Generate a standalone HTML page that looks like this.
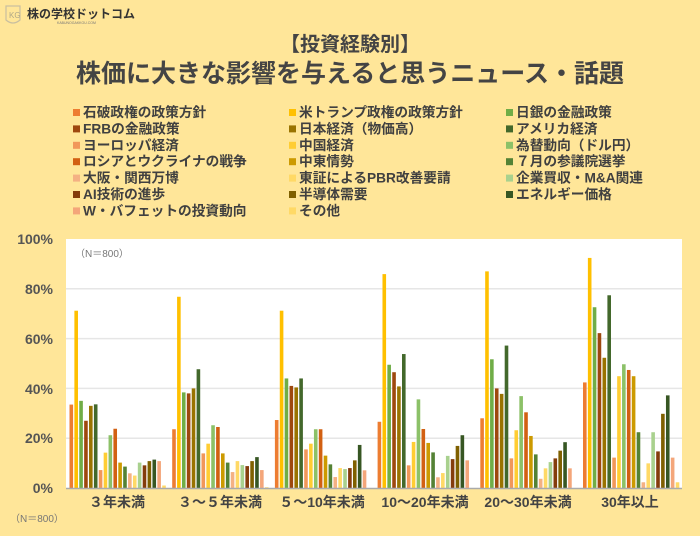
<!DOCTYPE html>
<html><head><meta charset="utf-8"><style>
body{margin:0;width:700px;height:531px;background:#FFE699;overflow:hidden;font-family:"Liberation Sans","Noto Sans CJK JP",sans-serif;}
</style></head><body>
<svg id="s" width="700" height="531" xmlns="http://www.w3.org/2000/svg" font-family="Liberation Sans, Noto Sans CJK JP, sans-serif">
<rect width="700" height="531" fill="#FFE699"/>
<path d="M6 6 L20 6 L20 20 Q13 26 6 20 Z" fill="none" stroke="#c9bfa0" stroke-width="1.2"/>
<text x="9" y="18" font-size="8" fill="#b0a888">KG</text>
<text x="27" y="18" font-size="12" font-weight="bold" fill="#333">株の学校ドットコム</text>
<text x="57" y="24" font-size="3.5" fill="#777">KABUNOGAKKOU.COM</text>
<text x="350" y="51" font-size="20" font-weight="bold" fill="#444" text-anchor="middle">【投資経験別】</text>
<text x="350" y="82" font-size="25" font-weight="bold" fill="#444" text-anchor="middle">株価に大きな影響を与えると思うニュース・話題</text>
<g id="leg" font-size="13.7" fill="#404040" font-weight="bold"></g>
<rect x="66" y="239" width="616" height="250" fill="#fff"/>
<g stroke="#e6e6e6" stroke-width="1.5">
<line x1="66" y1="288.8" x2="682" y2="288.8"/><line x1="66" y1="338.6" x2="682" y2="338.6"/><line x1="66" y1="388.4" x2="682" y2="388.4"/><line x1="66" y1="438.2" x2="682" y2="438.2"/></g>
<g font-size="14" fill="#555" font-weight="bold" text-anchor="end">
<text x="53" y="244">100%</text><text x="53" y="294">80%</text><text x="53" y="344">60%</text><text x="53" y="394">40%</text><text x="53" y="443">20%</text><text x="53" y="493">0%</text></g>
<text x="75" y="257" font-size="10" fill="#777">（N＝800）</text>
<text x="10" y="522" font-size="10" fill="#777">（N＝800）</text>
<g id="bars"></g>
<line x1="66" y1="488.5" x2="682" y2="488.5" stroke="#aaa" stroke-width="1.5"/>
<g font-size="14" fill="#444" font-weight="bold" text-anchor="middle">
<text x="117" y="507">３年未満</text><text x="220" y="507">３～５年未満</text><text x="322" y="507">５～10年未満</text><text x="425" y="507">10～20年未満</text><text x="528" y="507">20～30年未満</text><text x="630" y="507">30年以上</text></g>
</svg>
<script>
var C=["#ED7D31","#FFC000","#70AD47","#9E480E","#997300","#43682B","#F1975A","#FFCD33","#8CC168","#D26012","#CC9A00","#548235","#F4B183","#FFD966","#A9D18E","#843C0C","#7F6000","#375623","#F4A67A","#FFD966"];
var N=["石破政権の政策方針","米トランプ政権の政策方針","日銀の金融政策","FRBの金融政策","日本経済（物価高）","アメリカ経済","ヨーロッパ経済","中国経済","為替動向（ドル円）","ロシアとウクライナの戦争","中東情勢","７月の参議院選挙","大阪・関西万博","東証によるPBR改善要請","企業買収・M&A関連","AI技術の進歩","半導体需要","エネルギー価格","W・バフェットの投資動向","その他"];
var D=[[33.5,71.2,35,27,33,33.6,7.2,14.2,21.2,23.8,10.2,8.6,5.9,5,10.2,9.1,10.8,11.4,10.8,1],
[23.6,76.8,38.4,38,40,47.7,13.9,17.8,25.2,24.5,13.9,10.2,6.4,10.8,9.2,8.8,10.8,12.4,7.2,0.3],
[27.3,71.2,44,41,40.4,44,15.5,17.8,23.6,23.6,13,9.5,4.4,8,7.6,8,11.1,17.3,7.1,0],
[26.6,85.9,49.5,46.5,40.8,53.8,9.1,18.5,35.6,23.7,18.1,14.3,4.3,6,12.9,11.6,16.9,21.2,11.1,0],
[28,87,51.7,40,37.8,57.2,11.9,23.2,36.9,30.4,20.9,13.5,3.7,7.9,10.4,11.9,15,18.4,7.9,0],
[42.4,92.4,72.6,62.2,52.3,77.4,12.2,44.9,49.7,47.4,44.9,22.4,2.3,9.9,22.4,14.7,29.8,37.2,12.2,2.3]];
var h="";
for(var g=0;g<6;g++)for(var i=0;i<20;i++){var v=D[g][i];if(!v)continue;var x=69.5+g*102.7+i*4.88,hh=v*2.49;
h+='<rect x="'+x.toFixed(2)+'" y="'+(488-hh).toFixed(2)+'" width="3.6" height="'+hh.toFixed(2)+'" fill="'+C[i]+'"/>';}
document.getElementById("bars").innerHTML=h;
var l="",cx=[73,289,506];
for(var k=0;k<20;k++){var c=k%3,r=Math.floor(k/3),y=114+r*16.4;
l+='<rect x="'+cx[c]+'" y="'+(y-5)+'" width="7" height="7" fill="'+C[k]+'"/><text x="'+(cx[c]+10)+'" y="'+(y+3)+'">'+N[k].replace("&","&amp;")+'</text>';}
document.getElementById("leg").innerHTML=l;
</script>
</body></html>
